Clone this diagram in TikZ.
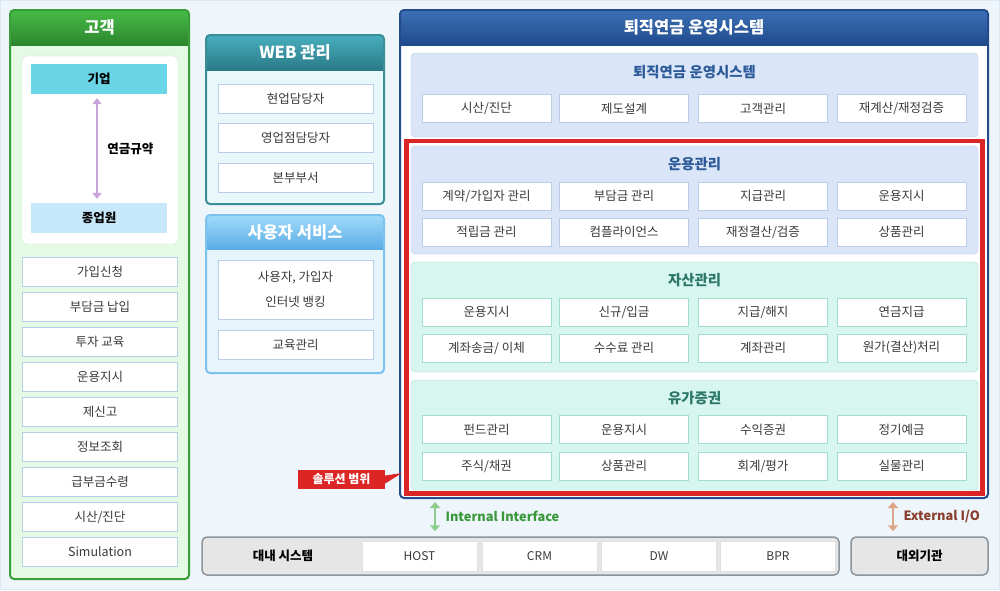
\documentclass[tikz,border=0pt]{standalone}
\usepackage{fontspec}
\setmainfont{Noto Sans CJK KR}
\usetikzlibrary{arrows.meta}

% colours
\definecolor{bgcol}{HTML}{EEF6FC}
\definecolor{bgline}{HTML}{DCE8F2}
\definecolor{celltext}{HTML}{3A3A3A}
\definecolor{custtop}{HTML}{48BC48}
\definecolor{custbot}{HTML}{2C862C}
\definecolor{custline}{HTML}{3A9E3A}
\definecolor{custbody}{HTML}{E4FAE4}
\definecolor{corpcol}{HTML}{6AD5E6}
\definecolor{empcol}{HTML}{C6E8FA}
\definecolor{pactcol}{HTML}{C9A2DA}
\definecolor{webtop}{HTML}{48AEBE}
\definecolor{webbot}{HTML}{2A7A86}
\definecolor{webline}{HTML}{3A8E98}
\definecolor{webbody}{HTML}{E8F8FA}
\definecolor{usrtop}{HTML}{A2DCFA}
\definecolor{usrbot}{HTML}{5AACE6}
\definecolor{usrline}{HTML}{7DC3EE}
\definecolor{usrbody}{HTML}{E6F4FC}
\definecolor{maintop}{HTML}{3D70B6}
\definecolor{mainbot}{HTML}{1F4B8C}
\definecolor{mainline}{HTML}{244C8A}
\definecolor{sysfill}{HTML}{DAE6F8}
\definecolor{sysline}{HTML}{B9CDE8}
\definecolor{systext}{HTML}{2C5A98}
\definecolor{astfill}{HTML}{D8F6F0}
\definecolor{astline}{HTML}{A2DCCE}
\definecolor{asttext}{HTML}{2B7868}
\definecolor{solred}{HTML}{DC2626}
\definecolor{basefill}{HTML}{E6E6E6}
\definecolor{baseline}{HTML}{8C949C}
\definecolor{intarrow}{HTML}{8ECC8E}
\definecolor{inttext}{HTML}{3A983A}
\definecolor{extarrow}{HTML}{DDA68A}
\definecolor{exttext}{HTML}{8A3E2C}

\tikzset{
  cell/.style={draw=#1, fill=white, text=celltext, inner sep=0pt,
    minimum width=129pt, minimum height=28pt,
    font=\fontsize{12.5}{14}\selectfont},
  cell/.default=sysline,
  sidecell/.style={cell=#1, minimum width=155pt, minimum height=29pt},
  sidecell/.default=sysline,
  headtext/.style={text=white, font=\fontsize{16.5}{19}\selectfont\bfseries},
  subtitle/.style={text=#1, font=\fontsize{14.4}{17}\selectfont\bfseries},
  blackbold/.style={text=black, font=\fontsize{12.5}{15}\selectfont\bfseries},
  basecell/.style={draw=black!12, fill=white, text=celltext, inner sep=0pt,
    minimum width=115pt, minimum height=30pt,
    font=\fontsize{12}{14}\selectfont},
  ioarrow/.style={line width=2.5pt,
    {Triangle[length=6pt,width=10pt]}-{Triangle[length=6pt,width=10pt]}},
  iotext/.style={text=#1, font=\fontsize{12.8}{15}\selectfont\bfseries},
}

\begin{document}
\begin{tikzpicture}[x=1pt, y=-1pt]
  \useasboundingbox (0,0) rectangle (1000,590);
  \fill[bgcol] (0,0) rectangle (1000,590);
  \draw[bgline] (0.5,0.5) rectangle (999.5,589.5);

  % 고객
  \begin{scope}
    \clip[rounded corners=4pt] (10,10) rectangle (189,579);
    \fill[custbody] (10,10) rectangle (189,579);
    \shade[top color=custtop, bottom color=custbot] (10,10) rectangle (189,45);
  \end{scope}
  \draw[custline, line width=2pt, rounded corners=4pt] (10,10) rectangle (189,579);
  \node[headtext] (cust) at (99.5,27.5) {고객};
  \draw[draw=custline!30, fill=white, rounded corners=4pt] (22,56) rectangle (178,244);
  \node[fill=corpcol, minimum width=136pt, minimum height=30pt, blackbold] (corp) at (99,79) {기업};
  \node[fill=empcol, minimum width=136pt, minimum height=30pt, blackbold] (emp) at (99,218) {종업원};
  \draw[pactcol, line width=2pt, {Triangle[length=6pt,width=9pt]}-{Triangle[length=6pt,width=9pt]}]
    ([xshift=-2pt,yshift=-4pt]corp.south) -- ([xshift=-2pt,yshift=4pt]emp.north)
    node[midway, right=6pt, blackbold] (pact) {연금규약};

  \node[sidecell] (c1) at (100,272) {가입신청};
  \node[sidecell] (c2) at (100,307) {부담금 납입};
  \node[sidecell] (c3) at (100,342) {투자 교육};
  \node[sidecell] (c4) at (100,377) {운용지시};
  \node[sidecell] (c5) at (100,412) {제신고};
  \node[sidecell] (c6) at (100,447) {정보조회};
  \node[sidecell] (c7) at (100,482) {급부금수령};
  \node[sidecell] (c8) at (100,517) {시산/진단};
  \node[sidecell] (c9) at (100,552) {Simulation};

  % WEB 관리
  \begin{scope}
    \clip[rounded corners=4pt] (206,35) rectangle (384,204);
    \fill[webbody] (206,35) rectangle (384,204);
    \shade[top color=webtop, bottom color=webbot] (206,35) rectangle (384,70);
  \end{scope}
  \draw[webline, line width=2pt, rounded corners=4pt] (206,35) rectangle (384,204);
  \node[headtext] (web) at (295,52.5) {WEB 관리};
  \node[sidecell] (w1) at (295.5,98.5) {현업담당자};
  \node[sidecell] (w2) at (295.5,137.5) {영업점담당자};
  \node[sidecell] (w3) at (295.5,177.5) {본부부서};

  % 사용자 서비스
  \begin{scope}
    \clip[rounded corners=4pt] (206,215) rectangle (384,373);
    \fill[usrbody] (206,215) rectangle (384,373);
    \shade[top color=usrtop, bottom color=usrbot] (206,215) rectangle (384,249);
  \end{scope}
  \draw[usrline, line width=2pt, rounded corners=4pt] (206,215) rectangle (384,373);
  \node[headtext] (usr) at (295,232) {사용자 서비스};
  \node[sidecell, minimum height=59pt, align=center,
    font=\fontsize{12.5}{25}\selectfont] (n1) at (295.5,289.5) {사용자, 가입자\\인터넷 뱅킹};
  \node[sidecell] (n2) at (295.5,344.5) {교육관리};

  % 퇴직연금 운영시스템
  \begin{scope}
    \clip[rounded corners=4pt] (400,10) rectangle (988,498);
    \fill[white] (400,10) rectangle (988,498);
    \shade[top color=maintop, bottom color=mainbot] (400,10) rectangle (988,45);
  \end{scope}
  \draw[mainline, line width=2pt, rounded corners=4pt] (400,10) rectangle (988,498);
  \node[headtext] (main) at (694,27.5) {퇴직연금 운영시스템};

  \draw[sysline, fill=sysfill, rounded corners=4pt] (411,53) rectangle (978,137);
  \draw[sysline, fill=sysfill, rounded corners=4pt] (411,146) rectangle (978,254);
  \draw[astline, fill=astfill, rounded corners=4pt] (411,262) rectangle (978,372);
  \draw[astline, fill=astfill, rounded corners=4pt] (411,380) rectangle (978,490);

  \node[subtitle=systext] (sys) at (694.5,72) {퇴직연금 운영시스템};
  \node[cell] (s1) at (486.5,108.5) {시산/진단};
  \node[cell] (s2) at (624,108.5) {제도설계};
  \node[cell] (s3) at (763,108.5) {고객관리};
  \node[cell] (s4) at (901.5,108.5) {재계산/재정검증};

  \node[subtitle=systext] (ops) at (694.5,164) {운용관리};
  \node[cell] (u1) at (486.5,196) {계약/가입자 관리};
  \node[cell] (u2) at (624,196) {부담금 관리};
  \node[cell] (u3) at (763,196) {지급관리};
  \node[cell] (u4) at (901.5,196) {운용지시};
  \node[cell] (u5) at (486.5,232) {적립금 관리};
  \node[cell] (u6) at (624,232) {컴플라이언스};
  \node[cell] (u7) at (763,232) {재정결산/검증};
  \node[cell] (u8) at (901.5,232) {상품관리};

  \node[subtitle=asttext] (ast) at (694.5,280) {자산관리};
  \node[cell=astline] (a1) at (486.5,312) {운용지시};
  \node[cell=astline] (a2) at (624,312) {신규/입금};
  \node[cell=astline] (a3) at (763,312) {지급/해지};
  \node[cell=astline] (a4) at (901.5,312) {연금지급};
  \node[cell=astline] (a5) at (486.5,348) {계좌송금/ 이체};
  \node[cell=astline] (a6) at (624,348) {수수료 관리};
  \node[cell=astline] (a7) at (763,348) {계좌관리};
  \node[cell=astline] (a8) at (901.5,348) {원가(결산)처리};

  \node[subtitle=asttext] (sec) at (694.5,398) {유가증권};
  \node[cell=astline] (y1) at (486.5,429.5) {펀드관리};
  \node[cell=astline] (y2) at (624,429.5) {운용지시};
  \node[cell=astline] (y3) at (763,429.5) {수익증권};
  \node[cell=astline] (y4) at (901.5,429.5) {정기예금};
  \node[cell=astline] (y5) at (486.5,466) {주식/채권};
  \node[cell=astline] (y6) at (624,466) {상품관리};
  \node[cell=astline] (y7) at (763,466) {회계/평가};
  \node[cell=astline] (y8) at (901.5,466) {실물관리};

  % 솔루션 범위
  \draw[solred, line width=4.5pt] (406.5,141) rectangle (982.5,493.5);
  \node[fill=solred, text=white, inner sep=0pt, minimum width=87pt, minimum height=19pt,
    font=\fontsize{12}{14}\selectfont\bfseries] (scope) at (341.5,479.5) {솔루션 범위};
  \coordinate (scopetip) at (402,473);
  \fill[solred] ([yshift=4pt]scope.east) -- (scopetip) -- ([yshift=-4pt]scope.east) -- cycle;

  % 대내 / 대외
  \node[draw=baseline, fill=basefill, line width=1.5pt, rounded corners=5pt,
    minimum width=637pt, minimum height=38pt] (insys) at (520.5,556) {};
  \node[blackbold] (inlbl) at (283,556) {대내 시스템};
  \node[basecell] (host) at (419.5,556) {HOST};
  \node[basecell] (crm) at (539.5,556) {CRM};
  \node[basecell] (dw) at (659,556) {DW};
  \node[basecell] (bpr) at (778,556) {BPR};
  \node[draw=baseline, fill=basefill, line width=1.5pt, rounded corners=5pt,
    minimum width=137pt, minimum height=38pt, blackbold] (outsys) at (919.5,556) {대외기관};

  % Interfaces
  \coordinate (inttop) at (435,502);
  \coordinate (exttop) at (893,502);
  \draw[intarrow, ioarrow] (inttop) -- ([yshift=5pt]insys.north -| inttop)
    node[midway, right=6pt, iotext=inttext] (intlbl) {Internal Interface};
  \draw[extarrow, ioarrow] (exttop) -- ([yshift=5pt]outsys.north -| exttop)
    node[midway, right=6pt, iotext=exttext] (extlbl) {External I/O};
\end{tikzpicture}
\end{document}
